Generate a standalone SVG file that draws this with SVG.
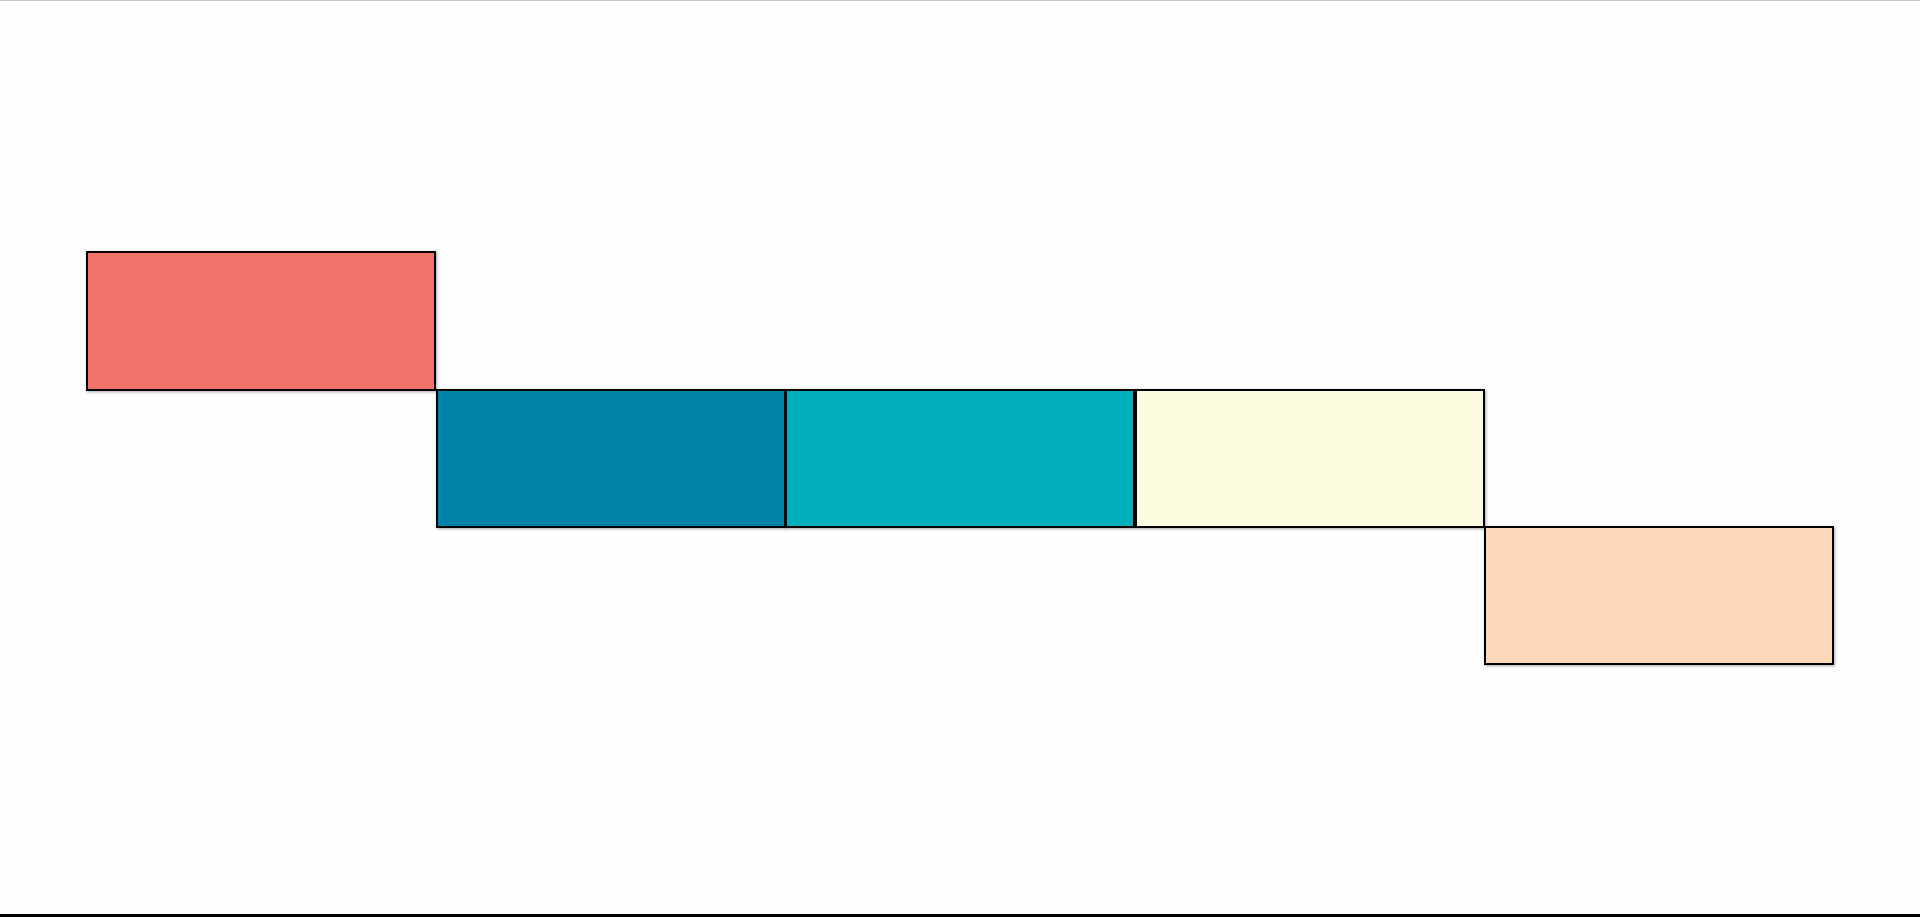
<svg xmlns="http://www.w3.org/2000/svg" width="1920" height="917" viewBox="0 0 1920 917">
<defs>
<filter id="sh" x="-10%" y="-10%" width="120%" height="120%">
<feDropShadow dx="1" dy="1" stdDeviation="1.5" flood-color="#000" flood-opacity="0.35"/>
</filter>
<style>
.box{stroke:#000;stroke-width:2;filter:url(#sh)}
</style>
</defs>
<rect width="1920" height="917" fill="#fefefe"/>
<line x1="0" y1="0.5" x2="1920" y2="0.5" stroke="#c8c8c8" stroke-width="1"/>
<line x1="0" y1="915.5" x2="1920" y2="915.5" stroke="#000" stroke-width="3"/>
<g id="connectors"></g>
<g id="node1"><rect class="box" x="87" y="252" width="348" height="138" fill="#F07369"/></g>
<g id="node2"><rect class="box" x="437" y="390" width="348" height="137" fill="#0383A8"/></g>
<g id="node3"><rect class="box" x="786" y="390" width="348" height="137" fill="#03AFBB"/></g>
<g id="node4"><rect class="box" x="1136" y="390" width="348" height="137" fill="#FCFBDF"/></g>
<g id="node5"><rect class="box" x="1485" y="527" width="348" height="137" fill="#FCD8B8"/></g>
</svg>
